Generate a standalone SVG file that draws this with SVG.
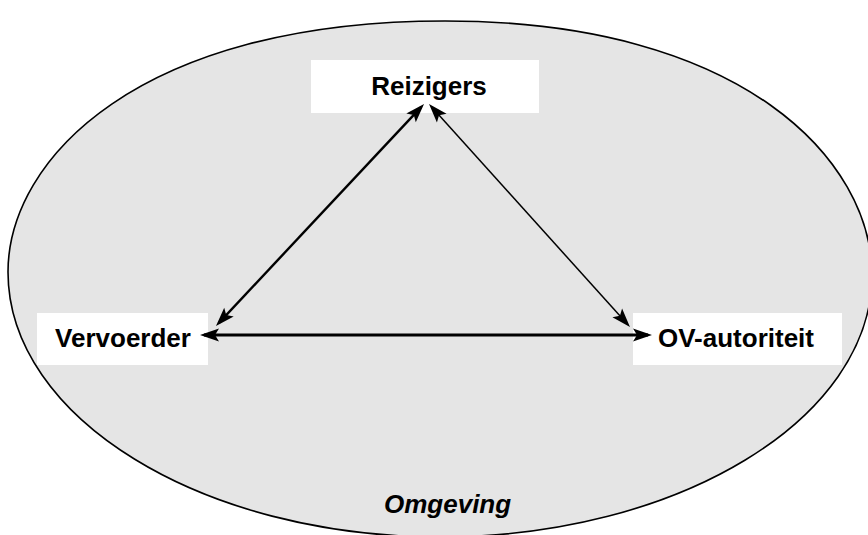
<svg xmlns="http://www.w3.org/2000/svg" width="868" height="535" viewBox="0 0 868 535">
<style>
.bg{fill:#ffffff}
.env{fill:#e5e5e5;stroke:#000;stroke-width:1.6}
.box{fill:#ffffff;stroke:none}
.lbl{font-family:"Liberation Sans",Arial,sans-serif;font-weight:bold;font-size:26px;fill:#000;text-anchor:middle}
.env-lbl{font-family:"Liberation Sans",Arial,sans-serif;font-weight:bold;font-style:italic;font-size:26px;fill:#000}
.conn{stroke:#000;fill:none;marker-start:url(#ah);marker-end:url(#ah)}
</style>
<defs>
<marker id="ah" markerUnits="userSpaceOnUse" markerWidth="20" markerHeight="14" viewBox="0 0 20 14" refX="16" refY="7" orient="auto-start-reverse">
<path d="M20,7 L1,0.5 L5,7 L1,13.5 Z" fill="#000"/>
</marker>
</defs>
<rect class="bg" x="0" y="0" width="868" height="535"/>
<g id="omgeving">
<path class="env" d="M8,272 C8,159 139,21 445,21 C744,21 872,161 872,275 C872,419 678,537 440,537 C202,537 8,418 8,272 Z"/>
<text class="env-lbl" x="384" y="513">Omgeving</text>
</g>
<g id="reizigers">
<rect class="box" x="311" y="60" width="228" height="53"/>
<text class="lbl" x="429" y="95">Reizigers</text>
</g>
<g id="vervoerder">
<rect class="box" x="37" y="313" width="171" height="52"/>
<text class="lbl" x="123" y="347">Vervoerder</text>
</g>
<g id="ov-autoriteit">
<rect class="box" x="633" y="313" width="209" height="52"/>
<text class="lbl" x="736" y="347">OV-autoriteit</text>
</g>
<g id="connectors">
<line class="conn" x1="218.7" y1="323.1" x2="421.3" y2="106.9" stroke-width="2.4"/>
<line class="conn" x1="431.7" y1="107" x2="627.3" y2="324" stroke-width="1.5"/>
<line class="conn" x1="204" y1="335" x2="648" y2="335" stroke-width="2.8"/>
</g>
</svg>
